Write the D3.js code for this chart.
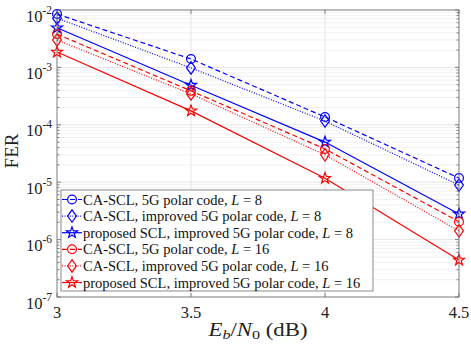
<!DOCTYPE html>
<html><head><meta charset="utf-8">
<script src="https://cdn.jsdelivr.net/npm/d3@7"></script>
<style>body{margin:0;background:#fff}svg{display:block}</style>
</head><body>
<script>
const snr = [3, 3.5, 4, 4.5];
const caScl5gL8 = [8.5e-3, 1.4e-3, 1.37e-4, 1.18e-5];
const caSclImpL8 = [7.2e-3, 9.8e-4, 1.16e-4, 8.9e-6];
const propSclL8 = [4.9e-3, 4.9e-4, 5.0e-5, 2.8e-6];
const caScl5gL16 = [3.8e-3, 3.9e-4, 3.8e-5, 2.05e-6];
const caSclImpL16 = [3.0e-3, 3.45e-4, 3.0e-5, 1.42e-6];
const propSclL16 = [1.85e-3, 1.75e-4, 1.17e-5, 4.4e-7];
const xTicks = [3, 3.5, 4, 4.5];
const yTickExps = [-2, -3, -4, -5, -6, -7];
const seriesNames = [
  ["CA-SCL, 5G polar code, ", "8"],
  ["CA-SCL, improved 5G polar code, ", "8"],
  ["proposed SCL, improved 5G polar code, ", "8"],
  ["CA-SCL, 5G polar code, ", "16"],
  ["CA-SCL, improved 5G polar code, ", "16"],
  ["proposed SCL, improved 5G polar code, ", "16"]
];
const seriesData = [caScl5gL8, caSclImpL8, propSclL8, caScl5gL16, caSclImpL16, propSclL16];
const colors = ["#0000ff","#0000ff","#0000ff","#ff0000","#ff0000","#ff0000"];
const markers = ["circle","diamond","star","circle","diamond","star"];
const dashes = ["5,3","1,1.6",null,"5,3","1,1.6",null];

const W = 471, H = 344;
const L = 57, R = 459, T = 10, B = 297;
const svg = d3.select("body").append("svg").attr("width", W).attr("height", H);
const x = d3.scaleLinear().domain([3, 4.5]).range([L, R]);
const y = d3.scaleLog().domain([1e-7, 1e-2]).range([B, T]);
const font = "'Liberation Serif', 'DejaVu Serif', serif";

// grid
const g = svg.append("g");
const minor = [];
for (let e = -7; e < -2; e++) for (let k = 2; k <= 9; k++) minor.push(k * Math.pow(10, e));
g.selectAll(".mg").data(minor).enter().append("line")
  .attr("x1", L).attr("x2", R).attr("y1", d => y(d)).attr("y2", d => y(d))
  .attr("stroke", "#ebebeb").attr("stroke-width", 0.7);
g.selectAll(".Mg").data(yTickExps).enter().append("line")
  .attr("x1", L).attr("x2", R).attr("y1", d => y(Math.pow(10, d))).attr("y2", d => y(Math.pow(10, d)))
  .attr("stroke", "#dedede").attr("stroke-width", 0.8);
g.selectAll(".xg").data(xTicks).enter().append("line")
  .attr("x1", d => x(d)).attr("x2", d => x(d)).attr("y1", T).attr("y2", B)
  .attr("stroke", "#dedede").attr("stroke-width", 0.8);

// ticks (inward) left and right
const tk = svg.append("g").attr("stroke", "#555").attr("stroke-width", 0.7);
minor.forEach(v => {
  tk.append("line").attr("x1", L).attr("x2", L + 2.5).attr("y1", y(v)).attr("y2", y(v));
  tk.append("line").attr("x1", R).attr("x2", R - 2.5).attr("y1", y(v)).attr("y2", y(v));
});
yTickExps.forEach(e => {
  const v = Math.pow(10, e);
  tk.append("line").attr("x1", L).attr("x2", L + 4).attr("y1", y(v)).attr("y2", y(v));
  tk.append("line").attr("x1", R).attr("x2", R - 4).attr("y1", y(v)).attr("y2", y(v));
});
xTicks.forEach(v => {
  tk.append("line").attr("x1", x(v)).attr("x2", x(v)).attr("y1", B).attr("y2", B - 4);
  tk.append("line").attr("x1", x(v)).attr("x2", x(v)).attr("y1", T).attr("y2", T + 4);
});

// series
const line = d3.line().x((d, i) => x(snr[i])).y(d => y(d));
const starPath = (r) => {
  const pts = [];
  for (let i = 0; i < 10; i++) {
    const a = -Math.PI / 2 + i * Math.PI / 5;
    const rr = i % 2 === 0 ? r : r * 0.4;
    pts.push([rr * Math.cos(a), rr * Math.sin(a)]);
  }
  return "M" + pts.map(p => p.join(",")).join("L") + "Z";
};
function drawMarker(sel, type, color) {
  if (type === "circle") sel.append("circle").attr("r", 4.4);
  else if (type === "diamond") sel.append("path").attr("d", "M0,-6.2L4.4,0L0,6.2L-4.4,0Z");
  else sel.append("path").attr("d", starPath(5.8));
  sel.selectAll("circle,path").attr("fill", "none").attr("stroke", color).attr("stroke-width", 1.2);
}
const plot = svg.append("g");
seriesData.forEach((s, i) => {
  plot.append("path").attr("d", line(s)).attr("fill", "none").attr("stroke", colors[i])
    .attr("stroke-width", 1.2).attr("stroke-dasharray", dashes[i]);
  s.forEach((v, j) => {
    const m = plot.append("g").attr("transform", `translate(${x(snr[j])},${y(v)})`);
    drawMarker(m, markers[i], colors[i]);
  });
});

// box
svg.append("rect").attr("x", L).attr("y", T).attr("width", R - L).attr("height", B - T)
  .attr("fill", "none").attr("stroke", "#6e6e6e").attr("stroke-width", 0.8);

// tick labels
xTicks.forEach(v => {
  svg.append("text").attr("x", x(v)).attr("y", 318).attr("text-anchor", "middle")
    .attr("font-family", font).attr("font-size", 16.5).attr("fill", "#222").text(v);
});
yTickExps.forEach(e => {
  const t = svg.append("text").attr("x", 52).attr("y", y(Math.pow(10, e)) + 11.5).attr("text-anchor", "end")
    .attr("font-family", font).attr("font-size", 16.5).attr("fill", "#222");
  t.append("tspan").text("10");
  t.append("tspan").attr("dy", -8).attr("font-size", 11.5).text(String(e));
});

// axis labels
svg.append("text").attr("transform", "translate(18,151) rotate(-90)").attr("text-anchor", "middle")
  .attr("font-family", font).attr("font-size", 19).attr("fill", "#222").text("FER");
const xl = svg.append("text").attr("x", 258).attr("y", 336).attr("text-anchor", "middle")
  .attr("font-family", font).attr("font-size", 19).attr("fill", "#222");
xl.append("tspan").attr("font-style", "italic").text("E");
xl.append("tspan").attr("font-style", "italic").attr("font-size", 13.5).attr("dy", 3.5).text("b");
xl.append("tspan").attr("dy", -3.5).text("/");
xl.append("tspan").attr("font-style", "italic").text("N");
xl.append("tspan").attr("font-size", 13.5).attr("dy", 3.5).text("0");
xl.append("tspan").attr("dy", -3.5).text(" (dB)");
{
  const w = xl.node().getComputedTextLength();
  const s = 99 / w;
  xl.attr("transform", `translate(258,336) scale(${s},1) translate(-258,-336)`);
}

// legend
const lx = 61, ly = 190, lw = 312, lh = 101;
const leg = svg.append("g");
leg.append("rect").attr("x", lx).attr("y", ly).attr("width", lw).attr("height", lh)
  .attr("fill", "#fff").attr("stroke", "#6e6e6e").attr("stroke-width", 0.8);
const legY = d3.scalePoint().domain(d3.range(seriesNames.length)).range([ly + 9.5, ly + 92.5]);
seriesNames.forEach((nm, i) => {
  const cy = legY(i);
  leg.append("line").attr("x1", lx + 1).attr("x2", lx + 21).attr("y1", cy).attr("y2", cy)
    .attr("stroke", colors[i]).attr("stroke-width", 1.2).attr("stroke-dasharray", dashes[i]);
  const m = leg.append("g").attr("transform", `translate(${lx + 11},${cy})`);
  drawMarker(m, markers[i], colors[i]);
  const t = leg.append("text").attr("x", lx + 22).attr("y", cy + 5)
    .attr("font-family", font).attr("font-size", 14.5).attr("fill", "#111");
  t.append("tspan").text(nm[0]);
  t.append("tspan").attr("font-style", "italic").text("L");
  t.append("tspan").text(" = " + nm[1]);
});
</script>
</body></html>
